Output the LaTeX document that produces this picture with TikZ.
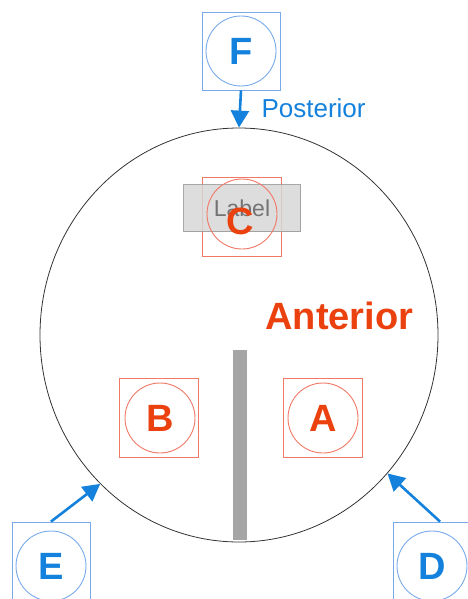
\documentclass[tikz,border=0pt]{standalone}
\usepackage{fontspec}
\setmainfont{Liberation Sans}
\usetikzlibrary{arrows.meta,shapes.geometric}
\definecolor{bluetxt}{RGB}{20,130,220}
\definecolor{blueline}{RGB}{120,170,235}
\definecolor{redtxt}{RGB}{235,65,15}
\definecolor{redline}{RGB}{240,120,100}
\definecolor{barfill}{RGB}{165,165,165}
\definecolor{labelfill}{RGB}{215,215,215}
\begin{document}
\begin{tikzpicture}[x=1pt,y=-1pt,
  bluebox/.style={draw=blueline,line width=0.9pt,minimum size=78pt,inner sep=0pt},
  redbox/.style={draw=redline,line width=0.9pt,minimum size=79pt,inner sep=0pt},
  bluering/.style={circle,draw=blueline,line width=0.9pt,minimum size=70pt,inner sep=0pt,
     text=bluetxt,font=\fontsize{38}{38}\selectfont\bfseries},
  redring/.style={circle,draw=redline,line width=0.9pt,minimum size=70pt,inner sep=0pt,
     text=redtxt,font=\fontsize{38}{38}\selectfont\bfseries},
  pointer/.style={draw=bluetxt,line width=2.6pt,-{Triangle[length=17pt,width=18pt]}}]
\useasboundingbox (0,0) rectangle (467,599);

% outline of the section
\node[ellipse,draw=black!80,line width=0.8pt,minimum width=398pt,minimum height=414pt] (ring) at (239,335) {};

% midline septum
\node[fill=barfill,minimum width=14pt,minimum height=190pt,inner sep=0pt] (septum) at (240,445) {};

% top marker F
\node[bluebox] (Fbox) at (241,51) {};
\node[bluering] (F) at (241,51) {F};
\draw[pointer] (Fbox.south) -- (ring.north);
\node[text=bluetxt,font=\fontsize{26}{26}\selectfont,anchor=west] (post) at (258,108) {Posterior};

% marker C with its label
\node[redbox] (Cbox) at (242,217) {};
\node[fill=labelfill,draw=gray!80,line width=0.6pt,minimum width=117pt,minimum height=47pt,inner sep=0pt,
      text=gray!90!black,font=\fontsize{23}{23}\selectfont,opacity=0.85,text opacity=1] (lab) at (242,208) {Label};
\node[redring] (C) at (242,214) {};
\node[text=redtxt,font=\fontsize{38}{38}\selectfont\bfseries] (Ctxt) at (240,221) {C};

\node[text=redtxt,font=\fontsize{38}{38}\selectfont\bfseries,anchor=west] (ant) at (262,316) {Anterior};

% markers B and A
\node[redbox] (Bbox) at (159,418) {};
\node[redring] (B) at (160,418) {B};
\node[redbox] (Abox) at (323,418) {};
\node[redring] (A) at (323,418) {A};

% markers E and D with their pointers
\node[bluebox] (Ebox) at (51,561) {};
\node[bluering] (E) at (51,566) {E};
\draw[pointer] (Ebox.north) -- (ring.227);
\node[bluebox] (Dbox) at (432,561) {};
\node[bluering] (D) at (432,566) {D};
\draw[pointer] ([xshift=8pt]Dbox.north) -- (ring.317);
\end{tikzpicture}
\end{document}
